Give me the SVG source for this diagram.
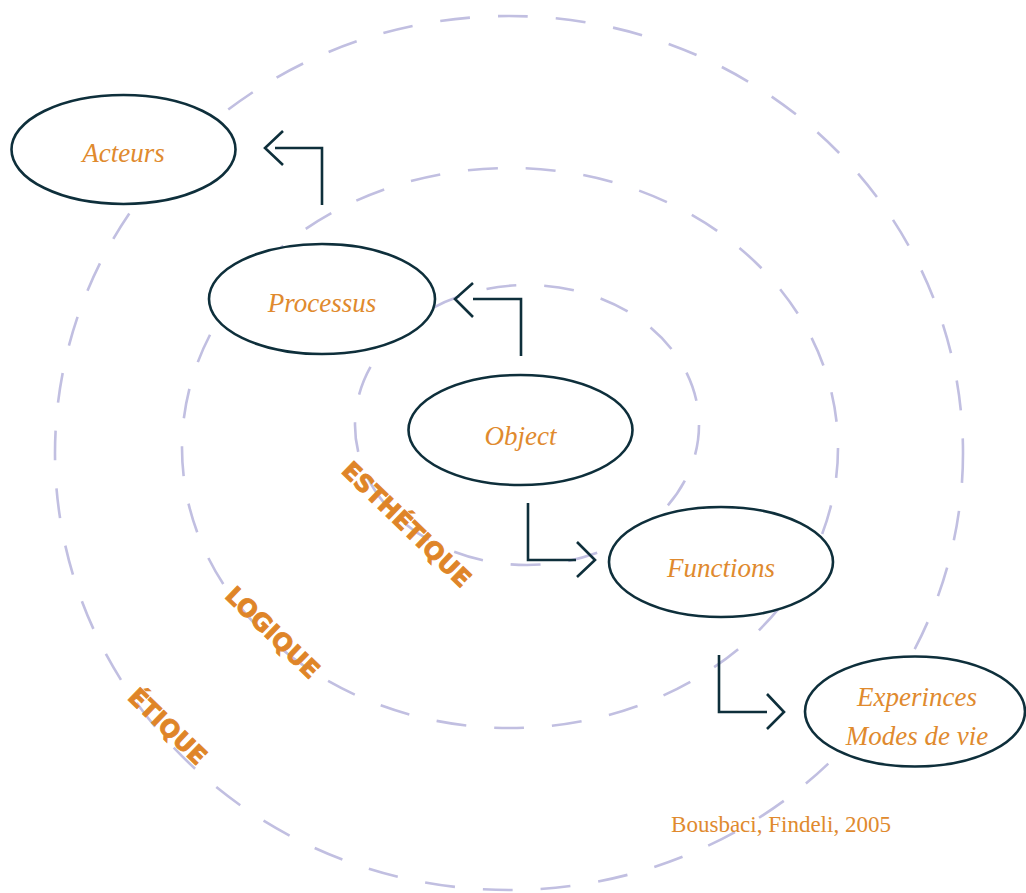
<svg xmlns="http://www.w3.org/2000/svg" width="1026" height="893" viewBox="0 0 1026 893">
  <style>
    .ring { fill: none; stroke: #c1bfe1; stroke-width: 2.6; stroke-dasharray: 30 28; }
    .node ellipse { fill: #ffffff; stroke: #0e2f3b; stroke-width: 2.6; }
    .node text { font-family: "Liberation Serif", "DejaVu Serif", serif; font-style: italic; font-size: 27px; fill: #e08a2e; text-anchor: middle; }
    .conn { fill: none; stroke: #0e2f3b; stroke-width: 2.6; stroke-linejoin: miter; }
    .lab { font-family: "DejaVu Sans", "Liberation Sans", sans-serif; font-weight: bold; font-size: 24px; fill: #df8528; stroke: #df8528; stroke-width: 0.9; text-anchor: middle; }
    .cite { font-family: "Liberation Serif", "DejaVu Serif", serif; font-size: 23px; fill: #e08a2e; text-anchor: middle; }
  </style>
  <rect width="1026" height="893" fill="#ffffff"/>
  <g id="rings">
    <ellipse class="ring" cx="509" cy="453" rx="454" ry="437"/>
    <ellipse class="ring" cx="510" cy="448" rx="328" ry="280"/>
    <ellipse class="ring" cx="527" cy="425" rx="172" ry="140"/>
  </g>
  <g id="ring-labels">
    <text class="lab" transform="translate(407,524) rotate(44)" y="9">ESTHÉTIQUE</text>
    <text class="lab" transform="translate(273,632) rotate(44)" y="9">LOGIQUE</text>
    <text class="lab" transform="translate(168,726) rotate(44)" y="9">ÉTIQUE</text>
  </g>
  <g id="connectors">
    <path class="conn" d="M322,205 V148 H275"/>
    <path class="conn" d="M283,131 L265,148 L283,165"/>
    <path class="conn" d="M521,356 V299 H473"/>
    <path class="conn" d="M473,283 L455,299 L473,317"/>
    <path class="conn" d="M528,503 V560 H576"/>
    <path class="conn" d="M577,542 L595,560 L577,577"/>
    <path class="conn" d="M719,655 V712 H767"/>
    <path class="conn" d="M767,694 L784,712 L767,729"/>
  </g>
  <g id="acteurs" class="node">
    <ellipse cx="123.5" cy="149.5" rx="112" ry="54.5"/>
    <text x="123.5" y="162">Acteurs</text>
  </g>
  <g id="processus" class="node">
    <ellipse cx="322" cy="299" rx="113" ry="55"/>
    <text x="322" y="312">Processus</text>
  </g>
  <g id="object" class="node">
    <ellipse cx="520.5" cy="430" rx="112" ry="55"/>
    <text x="520.5" y="445">Object</text>
  </g>
  <g id="functions" class="node">
    <ellipse cx="721" cy="562" rx="112" ry="55"/>
    <text x="721" y="577">Functions</text>
  </g>
  <g id="experiences" class="node">
    <ellipse cx="915" cy="711.5" rx="110" ry="55"/>
    <text x="917" y="706">Experinces</text>
    <text x="917" y="745">Modes de vie</text>
  </g>
  <text class="cite" x="781" y="832">Bousbaci, Findeli, 2005</text>
</svg>
